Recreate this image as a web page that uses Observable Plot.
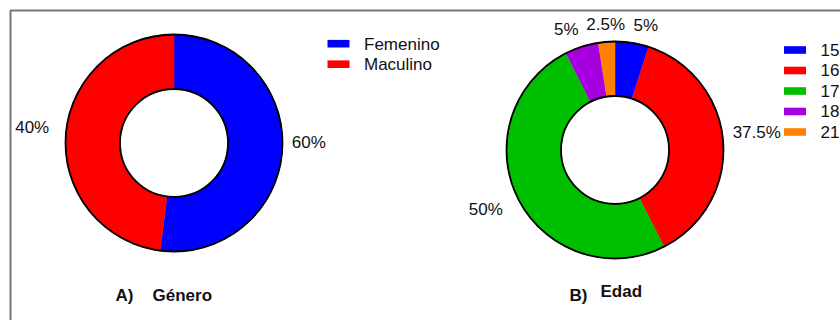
<!DOCTYPE html>
<html><head><meta charset="utf-8">
<script src="https://cdn.jsdelivr.net/npm/d3@7"></script>
<script src="https://cdn.jsdelivr.net/npm/@observablehq/plot@0.6"></script>
<style>body{margin:0;background:#fff;} #chart{width:840px;height:320px;}</style>
</head><body><div id="chart"></div>
<script>
// ---- data ----
const generoCategories = ["Femenino", "Maculino"];
const generoValues = [52, 48];            // slice sizes as drawn
const generoLabels = ["60%", "40%"];      // printed labels
const edadCategories = ["15", "16", "17", "18", "21"];
const edadValues = [5, 37.5, 50, 5, 2.5];
const edadLabels = ["5%", "37.5%", "50%", "5%", "2.5%"];
const panelLetters = ["A)", "B)"];
const panelNames = ["Género", "Edad"];

// ---- layout / style ----
const W = 840, H = 320;
const R_OUT = 108.5, R_IN = 54, R_LAB = 118;
const panels = [
  {cats: generoCategories, values: generoValues, labels: generoLabels, cx: 173.5, cy: 142.5,
   legendX: 327.5, legendY: 43.7, letterX: 115, nameX: 152, letterY: 295, nameY: 295},
  {cats: edadCategories, values: edadValues, labels: edadLabels, cx: 614.5, cy: 149.5,
   legendX: 784, legendY: 50, letterX: 569, nameX: 600, letterY: 295, nameY: 291.5}
];
const colorDomain = [...generoCategories, ...edadCategories];
const colorRange = ["#0000ff", "#ff0000", "#0000ff", "#ff0000", "#00bf00", "#a600e0", "#ff8000"];

const slicePts = [], labelPts = [], legendRows = [];
panels.forEach((p, pi) => {
  const arcs = d3.pie().sort(null).value(d => d)(p.values);
  arcs.forEach((a, i) => {
    const id = pi + "-" + i, key = p.cats[i];
    const n = Math.max(2, Math.ceil((a.endAngle - a.startAngle) / (Math.PI / 360)));
    for (let k = 0; k <= n; k++) {
      const t = a.startAngle + (a.endAngle - a.startAngle) * k / n;
      slicePts.push({id, key, x: p.cx + R_OUT * Math.sin(t), y: p.cy - R_OUT * Math.cos(t)});
    }
    for (let k = n; k >= 0; k--) {
      const t = a.startAngle + (a.endAngle - a.startAngle) * k / n;
      slicePts.push({id, key, x: p.cx + R_IN * Math.sin(t), y: p.cy - R_IN * Math.cos(t)});
    }
    const m = (a.startAngle + a.endAngle) / 2, s = Math.sin(m), c = Math.cos(m);
    const yShift = c > -0.1 ? -8 : Math.min(9, -9 + 33 * (-c));
    const xShift = s < -0.5 ? -7 : 0;
    labelPts.push({
      text: p.labels[i],
      x: p.cx + R_LAB * s + xShift,
      y: p.cy - R_LAB * c + yShift,
      anchor: s > 0.1 ? "start" : s < -0.1 ? "end" : "middle"
    });
  });
  p.cats.forEach((c, i) => legendRows.push({key: c, x: p.legendX, y: p.legendY + i * 20.5}));
});

const chart = Plot.plot({
  width: W, height: H, margin: 0,
  x: {domain: [0, W], range: [0, W], axis: null},
  y: {domain: [0, H], range: [0, H], axis: null},
  color: {domain: colorDomain, range: colorRange},
  style: {fontFamily: "'Liberation Sans', Arial, sans-serif", fontSize: "17px", background: "white", color: "black"},
  marks: [
    Plot.ruleX([10], {y1: 10, y2: H, stroke: "#777", strokeWidth: 2}),
    Plot.ruleY([10], {x1: 10, x2: W, stroke: "#777", strokeWidth: 2}),
    Plot.line(slicePts, {x: "x", y: "y", z: "id", fill: "key", stroke: "key", strokeWidth: 0.6, curve: "linear"}),
    Plot.dot(panels, {x: "cx", y: "cy", r: R_OUT, fill: "none", stroke: "black", strokeWidth: 1.8}),
    Plot.dot(panels, {x: "cx", y: "cy", r: R_IN, fill: "none", stroke: "black", strokeWidth: 1.8}),
    ...["start", "middle", "end"].map(anc =>
      Plot.text(labelPts.filter(d => d.anchor === anc), {x: "x", y: "y", text: "text", textAnchor: anc, fontSize: 17, fill: "#111"})),
    Plot.rect(legendRows, {x1: "x", x2: d => d.x + 22, y1: d => d.y - 3.8, y2: d => d.y + 3.8, fill: "key"}),
    Plot.text(legendRows, {x: d => d.x + 36, y: "y", text: "key", textAnchor: "start", fontSize: 17, fill: "#111"}),
    Plot.text(panels.map((p, i) => ({x: p.letterX, y: p.letterY, t: panelLetters[i]})), {x: "x", y: "y", text: "t", textAnchor: "start", fontSize: 17, fontWeight: "bold", fill: "#111"}),
    Plot.text(panels.map((p, i) => ({x: p.nameX, y: p.nameY, t: panelNames[i]})), {x: "x", y: "y", text: "t", textAnchor: "start", fontSize: 17, fontWeight: "bold", fill: "#111"})
  ]
});
document.getElementById("chart").appendChild(chart);
</script>
</body></html>
